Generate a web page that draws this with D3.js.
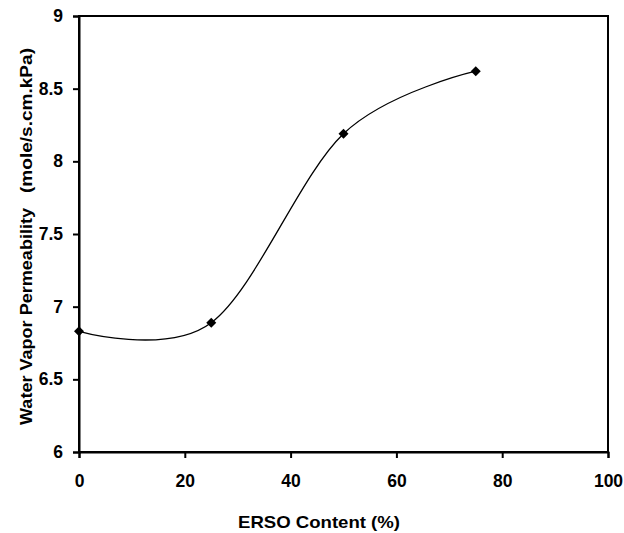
<!DOCTYPE html>
<html>
<head>
<meta charset="utf-8">
<script src="https://cdn.jsdelivr.net/npm/d3@7"></script>
<style>
  html, body { margin: 0; padding: 0; background: #fff; }
  svg { display: block; }
  text { font-family: "Liberation Sans", Arial, sans-serif; font-weight: bold; fill: #000; }
</style>
</head>
<body>
<svg id="chart" width="624" height="533"></svg>
<script>
const ersoContent = [0, 25, 50, 75];
const permeability = [6.83, 6.89, 8.19, 8.62];
const xTickValues = [0, 20, 40, 60, 80, 100];
const xTickLabels = ["0", "20", "40", "60", "80", "100"];
const yTickValues = [6, 6.5, 7, 7.5, 8, 8.5, 9];
const yTickLabels = ["6", "6.5", "7", "7.5", "8", "8.5", "9"];
const xTitle = "ERSO Content (%)";
const yTitleMain = "Water Vapor Permeability";
const yTitleUnit = "(mole/s.cm.kPa)";

const svg = d3.select("#chart");
const L = 79, R = 608, T = 16, B = 452;
const x = d3.scaleLinear().domain([0, 100]).range([L, R]);
const y = d3.scaleLinear().domain([6, 9]).range([B, T]);
const FONT = "'Liberation Sans', Arial, sans-serif";

// frame
svg.append("rect").attr("x", L).attr("y", T).attr("width", R - L).attr("height", B - T)
  .attr("fill", "none").attr("stroke", "#000").attr("stroke-width", 2);

const xAxis = d3.axisBottom(x).tickValues(xTickValues)
  .tickFormat((d, i) => xTickLabels[i]).tickSize(6).tickPadding(17);
const gx = svg.append("g").attr("transform", `translate(0,${B})`).call(xAxis);
gx.select(".domain").attr("stroke-width", 2);
gx.selectAll(".tick line").attr("stroke-width", 2);
gx.selectAll(".tick text").style("font-size", "17.5px").style("font-family", FONT).style("font-weight", "bold");

const yAxis = d3.axisLeft(y).tickValues(yTickValues)
  .tickFormat((d, i) => yTickLabels[i]).tickSize(6).tickPadding(10);
const gy = svg.append("g").attr("transform", `translate(${L},0)`).call(yAxis);
gy.select(".domain").attr("stroke-width", 2);
gy.selectAll(".tick line").attr("stroke-width", 2);
gy.selectAll(".tick text").style("font-size", "17.5px").style("font-family", FONT).style("font-weight", "bold");

const pts = ersoContent.map((d, i) => [d, permeability[i]]);
const line = d3.line().x(d => x(d[0])).y(d => y(d[1])).curve(d3.curveCardinal.tension(0));
svg.append("path").datum(pts).attr("d", line).attr("fill", "none")
  .attr("stroke", "#000").attr("stroke-width", 1.3);

svg.selectAll(".marker").data(pts).enter().append("path")
  .attr("class", "marker")
  .attr("d", d3.symbol(d3.symbolSquare, 50))
  .attr("transform", d => `translate(${x(d[0])},${y(d[1])}) rotate(45)`)
  .attr("fill", "#000");

svg.append("text").attr("x", 238).attr("y", 528)
  .attr("textLength", 162).attr("lengthAdjust", "spacingAndGlyphs")
  .style("font-size", "17px").text(xTitle);

svg.append("text").attr("transform", "translate(32,425) rotate(-90)")
  .attr("textLength", 217).attr("lengthAdjust", "spacingAndGlyphs")
  .style("font-size", "17px").text(yTitleMain);
svg.append("text").attr("transform", "translate(32,193) rotate(-90)")
  .attr("textLength", 145).attr("lengthAdjust", "spacingAndGlyphs")
  .style("font-size", "17px").text(yTitleUnit);
</script>
</body>
</html>
